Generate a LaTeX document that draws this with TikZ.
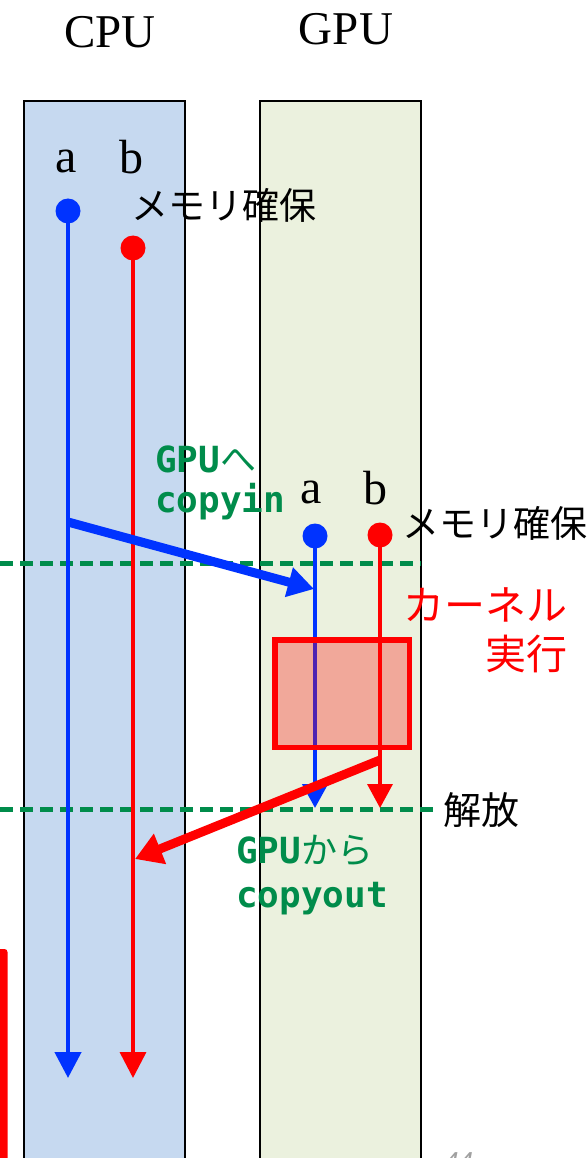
\documentclass[tikz,border=0pt]{standalone}
\usepackage{fontspec}
\setmainfont{Liberation Serif}
\newfontfamily\jpfont{Noto Sans CJK JP}
\newfontfamily\codefont{DejaVu Sans Mono}
\newfontfamily\pagefont{Liberation Sans}
\usetikzlibrary{arrows.meta}
\definecolor{cpufill}{RGB}{198,217,240}
\definecolor{gpufill}{RGB}{235,241,222}
\definecolor{myblue}{RGB}{0,51,255}
\definecolor{mygreen}{RGB}{0,140,75}
\definecolor{pagegray}{RGB}{160,160,160}
\begin{document}
\begin{tikzpicture}[x=1pt,y=-1pt,
  lanebox/.style={draw=black,line width=1.5pt},
  titletext/.style={font=\fontsize{47}{47}\selectfont,inner sep=0,anchor=base},
  vartext/.style={font=\fontsize{48}{48}\selectfont,inner sep=0,anchor=base},
  jtext/.style={font=\jpfont\fontsize{37}{37}\selectfont,inner sep=0},
  rtext/.style={font=\jpfont\fontsize{41}{41}\selectfont,inner sep=0,text=red,anchor=east},
  gtext/.style={font=\codefont\bfseries\fontsize{36}{36}\selectfont,inner sep=0,text=mygreen,anchor=base west},
  dotb/.style={circle,fill=myblue,inner sep=0,minimum size=25pt},
  dotr/.style={circle,fill=red,inner sep=0,minimum size=25pt},
  bline/.style={draw=myblue,line width=4.5pt},
  rline/.style={draw=red,line width=3.5pt},
  tipv/.style={-{Triangle[length=26pt,width=26pt]}},
  tipg/.style={-{Triangle[length=24pt,width=25pt]}},
  dashline/.style={draw=mygreen,line width=5pt,dash pattern=on 13pt off 7pt},
  kernelbox/.style={draw=red,line width=5.5pt,fill=red,fill opacity=0.3,minimum width=134.5pt,minimum height=107.5pt,inner sep=0},
]
\useasboundingbox (0,0) rectangle (586,1158);

% lanes
\fill[cpufill] (24,101) rectangle (185,1170);
\draw[lanebox] (24,1170) -- (24,101) -- (185,101) -- (185,1170);
\fill[gpufill] (260,101) rectangle (421,1170);
\draw[lanebox] (260,1170) -- (260,101) -- (421,101) -- (421,1170);

% left red bar (partial)
\fill[red,rounded corners=3pt] (-10,949) rectangle (7.5,1175);

% titles
\node[titletext] (cpu) at (110,48) {CPU};
\node[titletext] (gpu) at (346,45) {GPU};

% CPU variables
\node[vartext] (cal) at (66,173) {a};
\node[vartext] (cbl) at (131,174) {b};
\node[jtext] (cmem) at (224,205) {メモリ確保};

% dashed lines
\coordinate (d1l) at (0,563);
\coordinate (d1r) at (421,563);
\coordinate (d2l) at (0,809);
\coordinate (d2r) at (434,809);
\draw[dashline] (d1l) -- (d1r);
\draw[dashline] (d2l) -- (d2r);

% CPU lines
\node[dotb] (ca) at (68,211) {};
\node[dotr] (cb) at (133,248) {};
\coordinate (caend) at (68,1078);
\coordinate (cbend) at (133,1078);
\draw[bline,tipv,myblue] (ca.center) -- (caend);
\draw[rline,tipv,red] (cb.center) -- (cbend);

% GPU variables
\node[vartext] (gal) at (311,503) {a};
\node[vartext] (gbl) at (375,504) {b};
\node[jtext] (gmem) at (495,523) {メモリ確保};

% GPU lines
\node[dotb] (ga) at (315,536) {};
\node[dotr] (gb) at (380,535) {};
\coordinate (gaend) at (315,808);
\coordinate (gbend) at (380,808);
\draw[bline,tipg,myblue] (ga.center) -- (gaend);
\draw[rline,tipg,red] (gb.center) -- (gbend);

% kernel
\node[kernelbox] (kernel) at (342,693.5) {};
\node[rtext] (k1) at (568,605) {カーネル};
\node[rtext] (k2) at (568,654) {実行};

% release
\node[jtext,font=\jpfont\fontsize{38}{38}\selectfont,anchor=west] (rel) at (443,810) {解放};

% copyin
\coordinate (cinS) at (68,522);
\coordinate (cinE) at (314,589);
\draw[myblue,line width=9pt,-{Triangle[length=26pt,width=29pt]}] (cinS) -- (cinE);
\node[gtext] (cin1) at (155,472) {GPU{\jpfont\mdseries へ}};
\node[gtext] (cin2) at (155,512) {copyin};

% copyout
\coordinate (coutS) at (380,760);
\coordinate (coutE) at (135,859);
\draw[red,line width=9pt,-{Triangle[length=27pt,width=31pt]}] (coutS) -- (coutE);
\node[gtext] (cout1) at (236,863) {GPU{\jpfont\mdseries から}};
\node[gtext] (cout2) at (236,907) {copyout};

% page number (clipped at the bottom edge, as in the reference)
\node[inner sep=0,anchor=north west,font=\pagefont\itshape\fontsize{26}{26}\selectfont,text=pagegray] (pg) at (444,1152) {44};
\end{tikzpicture}
\end{document}
